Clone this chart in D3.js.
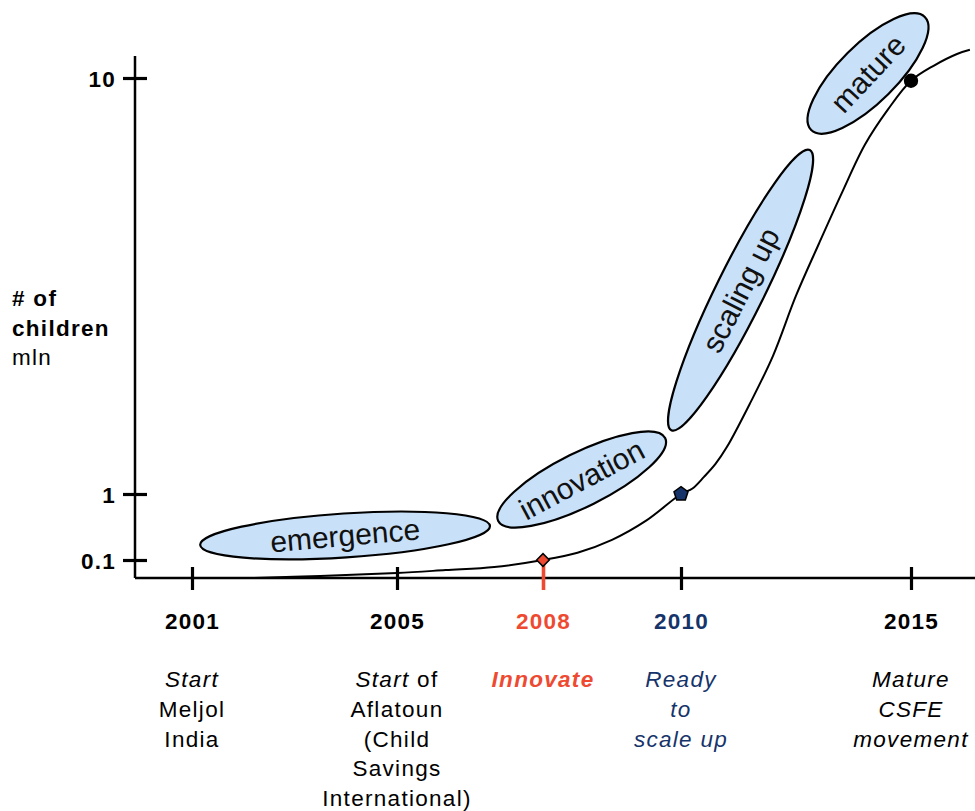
<!DOCTYPE html>
<html>
<head>
<meta charset="utf-8">
<script src="https://cdn.jsdelivr.net/npm/d3@7"></script>
<style>
  html, body { margin: 0; padding: 0; background: #fff; }
  svg { display: block; font-family: "Liberation Sans", Arial, sans-serif; }
</style>
</head>
<body>
<svg id="chart" width="975" height="811"></svg>
<script>
// ---------------- data ----------------
const yearTicks = [2001, 2005, 2008, 2010, 2015];
const valueTicks = [0.1, 1, 10];
const valueTickLabels = ["0.1", "1", "10"];

// growth curve (year, million children)
const curveYears  = [2002.2, 2003.5, 2005, 2006, 2007, 2008, 2008.5, 2009, 2009.5, 2010, 2010.25, 2010.5, 2010.75, 2011, 2011.5, 2012, 2012.5, 2013, 2013.5, 2014, 2014.5, 2015, 2015.5, 2016, 2016.28];
const curveValues = [0, 0.011, 0.028, 0.044, 0.061, 0.1, 0.2, 0.375, 0.64, 1, 1.12, 1.37, 1.65, 2.02, 2.96, 3.99, 5.29, 6.42, 7.52, 8.56, 9.32, 9.94, 10.27, 10.52, 10.61];

// milestones on the curve
const milestoneYears  = [2008, 2010, 2015];
const milestoneValues = [0.1, 1, 9.94];

// phases (tips of each phase bubble, in years / million children)
const phaseNames      = ["emergence", "innovation", "scaling up", "mature"];
const phaseFromYears  = [2001.16, 2007.08, 2009.86, 2012.83];
const phaseFromValues = [0.305, 0.632, 2.38, 8.875];
const phaseToYears    = [2006.91, 2009.77, 2012.80, 2015.30];
const phaseToValues   = [0.564, 2.21, 8.44, 11.32];

// notes under each year ( _text_ = italic )
const yearNotes = [
  ["_Start_", "Meljol", "India"],
  ["_Start_ of", "Aflatoun", "(Child", "Savings", "International)"],
  ["_Innovate_"],
  ["_Ready_", "_to_", "_scale up_"],
  ["_Mature_", "_CSFE_", "_movement_"]
];

const yTitleLines = ["# of", "children", "mln"];

// ---------------- styles / layout ----------------
const yearColor = {2008: "#ee4a32", 2010: "#16346a"};
const blobThickness = [44, 54, 48, 58];
const blobTextAngle = [-5, -28, -63, -47];
const blobFill = "#c8e0f8";
const FS = 22.5;

const svg = d3.select("#chart");

const x = d3.scaleLinear().domain(yearTicks).range([192, 397, 543, 681, 911]);
const y = d3.scaleLinear().domain([0, 0.1, 1, 10]).range([578, 560, 494, 78]);

const axisX0 = 135, axisY0 = 578;

// ---------------- phase bubbles ----------------
const gBlobs = svg.append("g");
phaseNames.forEach((name, i) => {
  const x1 = x(phaseFromYears[i]), y1 = y(phaseFromValues[i]);
  const x2 = x(phaseToYears[i]),   y2 = y(phaseToValues[i]);
  const cx = (x1 + x2) / 2, cy = (y1 + y2) / 2;
  const len = Math.hypot(x2 - x1, y2 - y1);
  const ang = Math.atan2(y2 - y1, x2 - x1) * 180 / Math.PI;
  gBlobs.append("ellipse")
    .attr("cx", cx).attr("cy", cy)
    .attr("rx", len / 2).attr("ry", blobThickness[i] / 2)
    .attr("transform", `rotate(${ang},${cx},${cy})`)
    .attr("fill", blobFill)
    .attr("stroke", "#000")
    .attr("stroke-width", 2.2);
  gBlobs.append("text")
    .attr("transform", `translate(${cx},${cy}) rotate(${blobTextAngle[i]})`)
    .attr("text-anchor", "middle")
    .attr("dy", "0.35em")
    .attr("font-size", 30)
    .attr("fill", "#111")
    .text(name);
});

// ---------------- axes ----------------
const gY = svg.append("g").attr("transform", `translate(${axisX0},0)`);
gY.append("line").attr("x1", 0).attr("x2", 0).attr("y1", 56).attr("y2", axisY0)
  .attr("stroke", "#000").attr("stroke-width", 2.5);
const yAxis = d3.axisLeft(y).tickValues(valueTicks)
  .tickFormat((d, i) => valueTickLabels[i]).tickSize(12).tickPadding(7);
gY.call(yAxis);
gY.select(".domain").remove();
gY.selectAll(".tick line").attr("x1", 12).attr("x2", -12)
  .attr("stroke", "#000").attr("stroke-width", 3.2);
gY.selectAll(".tick text")
  .attr("font-family", '"Liberation Sans", Arial, sans-serif')
  .attr("font-size", FS).attr("font-weight", "bold")
  .attr("letter-spacing", 1.2)
  .attr("fill", "#000")
  .attr("dy", "0.38em");

const gX = svg.append("g").attr("transform", `translate(0,${axisY0})`);
gX.append("line").attr("x1", axisX0).attr("x2", 975).attr("y1", 0).attr("y2", 0)
  .attr("stroke", "#000").attr("stroke-width", 2.5);
const xAxis = d3.axisBottom(x).tickValues(yearTicks).tickFormat(d3.format("d"))
  .tickSize(12).tickPadding(23);
gX.call(xAxis);
gX.select(".domain").remove();
gX.selectAll(".tick line")
  .attr("y1", d => d === 2008 ? -16 : -11).attr("y2", 12)
  .attr("stroke", d => d === 2008 ? yearColor[d] : "#000")
  .attr("stroke-width", d => d === 2008 ? 3.6 : 3.2);
gX.selectAll(".tick text")
  .attr("font-family", '"Liberation Sans", Arial, sans-serif')
  .attr("font-size", FS).attr("font-weight", "bold")
  .attr("letter-spacing", 1.3)
  .attr("fill", d => yearColor[d] || "#000");

// y title
const yTitle = svg.append("text").attr("x", 12).attr("font-size", FS).attr("letter-spacing", 1.3);
yTitleLines.forEach((t, i) => {
  yTitle.append("tspan").attr("x", 12).attr("y", 306 + i * 29.5)
    .attr("font-weight", i < 2 ? "bold" : "normal")
    .text(t);
});

// ---------------- curve ----------------
const curveData = curveYears.map((yr, i) => [yr, curveValues[i]]);
svg.append("path")
  .datum(curveData)
  .attr("fill", "none").attr("stroke", "#000").attr("stroke-width", 2)
  .attr("d", d3.line().x(d => x(d[0])).y(d => y(d[1])).curve(d3.curveCatmullRom.alpha(0.5)));

// ---------------- milestone markers ----------------
const pentagon = {
  draw(ctx, size) {
    const r = Math.sqrt(size / 2.4);
    for (let k = 0; k < 5; k++) {
      const a = -Math.PI / 2 + k * 2 * Math.PI / 5;
      const px = r * Math.cos(a), py = r * Math.sin(a);
      if (k === 0) ctx.moveTo(px, py); else ctx.lineTo(px, py);
    }
    ctx.closePath();
  }
};
const markerType = {2008: d3.symbolSquare, 2010: pentagon, 2015: d3.symbolCircle};
const markerRot = {2008: 45, 2010: 0, 2015: 0};
const markerFill = {2008: "#ee4a32", 2010: "#16346a", 2015: "#000"};
svg.append("g").selectAll("path")
  .data(milestoneYears.map((yr, i) => [yr, milestoneValues[i]]))
  .join("path")
  .attr("transform", d => `translate(${x(d[0])},${y(d[1])}) rotate(${markerRot[d[0]]})`)
  .attr("d", d => d3.symbol().type(markerType[d[0]]).size(d[0] === 2008 ? 80 : 130)())
  .attr("fill", d => markerFill[d[0]])
  .attr("stroke", "#000").attr("stroke-width", 1.5);

// ---------------- notes under years ----------------
const gNotes = svg.append("g")
  .attr("font-size", FS).attr("letter-spacing", 1.3)
  .attr("text-anchor", "middle");
yearNotes.forEach((lines, i) => {
  const yr = yearTicks[i];
  lines.forEach((line, j) => {
    const t = gNotes.append("text")
      .attr("x", x(yr)).attr("y", 687 + j * 29.8)
      .attr("fill", yearColor[yr] || "#000")
      .attr("font-weight", yr === 2008 ? "bold" : "normal");
    line.split(/(_[^_]+_)/).filter(s => s.length).forEach(seg => {
      const it = seg.startsWith("_");
      t.append("tspan")
        .attr("font-style", it ? "italic" : "normal")
        .text(it ? seg.slice(1, -1) : seg);
    });
  });
});
</script>
</body>
</html>
